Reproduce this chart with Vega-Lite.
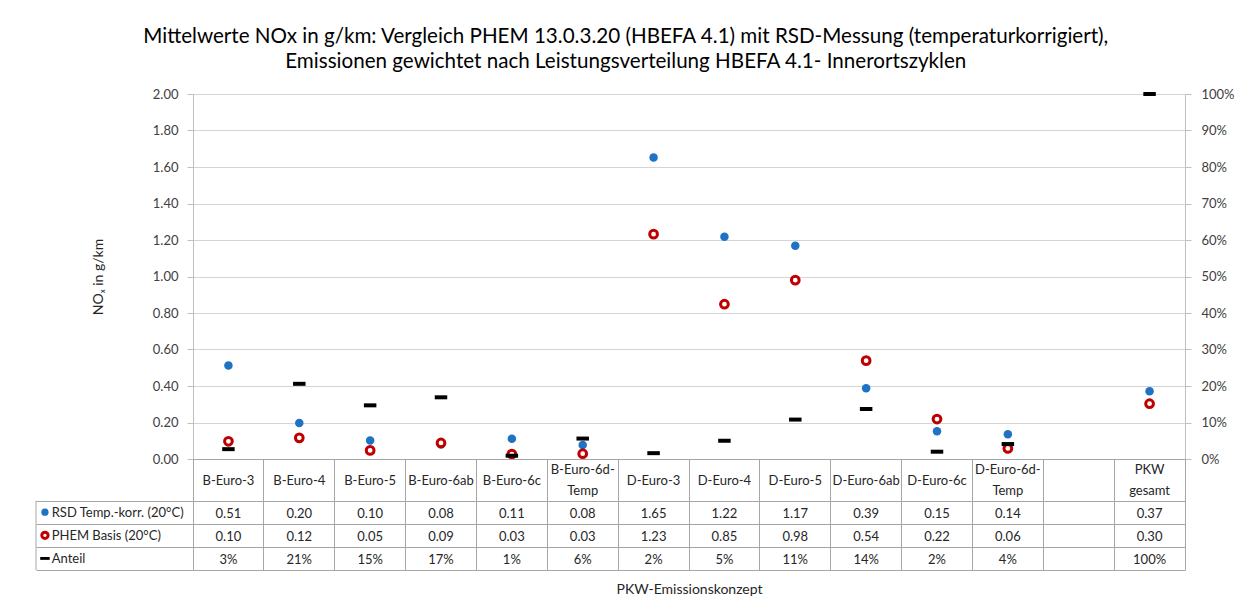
{
  "$schema": "https://vega.github.io/schema/vega-lite/v6.json",
  "padding": {"left": 35, "top": 27, "right": 4, "bottom": 5},
  "background": "white",
  "title": {
    "text": ["Mittelwerte NOx in g/km: Vergleich PHEM 13.0.3.20 (HBEFA 4.1) mit RSD-Messung (temperaturkorrigiert),", "Emissionen gewichtet nach Leistungsverteilung HBEFA 4.1- Innerortszyklen"],
    "fontSize": 20.6, "font": "Lato", "fontWeight": "normal", "color": "#000000", "lineHeight": 25, "anchor": "middle", "offset": 15, "dx": -9
  },
  "datasets": {
    "main": [
      {"k": "B-Euro-3", "rsd": 0.512, "phem": 0.097, "anteil": 0.027},
      {"k": "B-Euro-4", "rsd": 0.197, "phem": 0.116, "anteil": 0.206},
      {"k": "B-Euro-5", "rsd": 0.102, "phem": 0.047, "anteil": 0.147},
      {"k": "B-Euro-6ab", "rsd": 0.08, "phem": 0.088, "anteil": 0.169},
      {"k": "B-Euro-6c", "rsd": 0.111, "phem": 0.027, "anteil": 0.009},
      {"k": "B-Euro-6d-\nTemp", "rsd": 0.077, "phem": 0.029, "anteil": 0.056},
      {"k": "D-Euro-3", "rsd": 1.652, "phem": 1.232, "anteil": 0.016},
      {"k": "D-Euro-4", "rsd": 1.218, "phem": 0.848, "anteil": 0.05},
      {"k": "D-Euro-5", "rsd": 1.168, "phem": 0.98, "anteil": 0.108},
      {"k": "D-Euro-6ab", "rsd": 0.388, "phem": 0.539, "anteil": 0.137},
      {"k": "D-Euro-6c", "rsd": 0.152, "phem": 0.219, "anteil": 0.02},
      {"k": "D-Euro-6d-\nTemp", "rsd": 0.136, "phem": 0.058, "anteil": 0.041},
      {"k": "PKW\ngesamt", "rsd": 0.371, "phem": 0.303, "anteil": 1.0}
    ]
  },
  "columns": 2,
  "spacing": 0,
  "bounds": "flush",
  "concat": [
    {
      "width": 157, "height": 365,
      "data": {"values": []},
      "mark": "point",
      "encoding": {}
    },
    {
      "width": 992, "height": 365,
      "data": {"name": "main"},
      "encoding": {
        "x": {"field": "k", "type": "nominal", "axis": null,
              "scale": {"type": "band", "paddingInner": 0, "paddingOuter": 0,
                        "domain": ["B-Euro-3", "B-Euro-4", "B-Euro-5", "B-Euro-6ab", "B-Euro-6c", "B-Euro-6d-\nTemp", "D-Euro-3", "D-Euro-4", "D-Euro-5", "D-Euro-6ab", "D-Euro-6c", "D-Euro-6d-\nTemp", " ", "PKW\ngesamt"]}}
      },
      "layer": [
        {
          "layer": [
            {
              "mark": {"type": "point", "filled": true, "shape": "circle", "size": 72, "color": "#1f72c4", "opacity": 1},
              "encoding": {
                "y": {"field": "rsd", "type": "quantitative", "scale": {"domain": [0, 2], "nice": false},
                      "axis": {"title": "NOₓ in g/km", "values": [0, 0.2, 0.4, 0.6, 0.8, 1.0, 1.2, 1.4, 1.6, 1.8, 2.0], "format": ".2f",
                               "grid": true, "gridColor": "#d4d4d4", "domainColor": "#bfbfbf", "tickColor": "#bfbfbf", "tickSize": 6,
                               "labelPadding": 9, "labelFontSize": 13, "labelColor": "#404040", "titleFontSize": 14, "titleFontWeight": "normal", "titleColor": "#262626", "titlePadding": 47}}
              }
            },
            {
              "mark": {"type": "point", "filled": false, "shape": "circle", "size": 60, "stroke": "#c00000", "fill": "#ffffff", "fillOpacity": 1, "strokeWidth": 3, "opacity": 1},
              "encoding": {
                "y": {"field": "phem", "type": "quantitative", "scale": {"domain": [0, 2], "nice": false},
                      "axis": {"title": "NOₓ in g/km", "values": [0, 0.2, 0.4, 0.6, 0.8, 1.0, 1.2, 1.4, 1.6, 1.8, 2.0], "format": ".2f",
                               "grid": true, "gridColor": "#d4d4d4", "domainColor": "#bfbfbf", "tickColor": "#bfbfbf", "tickSize": 6,
                               "labelPadding": 9, "labelFontSize": 13, "labelColor": "#404040", "titleFontSize": 14, "titleFontWeight": "normal", "titleColor": "#262626", "titlePadding": 47}}
              }
            }
          ]
        },
        {
          "mark": {"type": "point", "filled": true, "shape": "M-1,-0.32L1,-0.32L1,0.32L-1,0.32Z", "size": 156, "color": "#000000", "opacity": 1, "strokeWidth": 0},
          "encoding": {
            "y": {"field": "anteil", "type": "quantitative", "scale": {"domain": [0, 1], "nice": false},
                  "axis": {"orient": "right", "title": null, "values": [0, 0.1, 0.2, 0.3, 0.4, 0.5, 0.6, 0.7, 0.8, 0.9, 1.0], "format": ".0%",
                           "grid": false, "domainColor": "#bfbfbf", "tickColor": "#bfbfbf", "tickSize": 6,
                           "labelPadding": 10, "labelFontSize": 13, "labelColor": "#404040"}}
          }
        }
      ],
      "resolve": {"scale": {"y": "independent"}}
    },
    {
      "width": 157, "height": 111,
      "data": {"values": [{}]},
      "layer": [
        {
          "mark": {"type": "rule", "color": "#a6a6a6", "strokeWidth": 1},
          "encoding": {
            "x": {"datum": 0, "type": "quantitative", "scale": {"domain": [0, 1], "nice": false}, "axis": null},
            "y": {"datum": 1.8, "type": "quantitative", "scale": {"domain": [0, 4.8], "reverse": true, "nice": false, "zero": false},
                  "axis": {"values": [1.8, 2.8, 3.8, 4.8], "grid": true, "gridColor": "#a6a6a6", "labels": false, "ticks": false, "domain": false, "title": null}},
            "y2": {"datum": 4.8}
          }
        },
        {
          "mark": {"type": "point", "filled": true, "shape": "circle", "size": 52, "color": "#1f72c4", "opacity": 1},
          "encoding": {
            "x": {"datum": 0.057, "type": "quantitative", "scale": {"domain": [0, 1], "nice": false}, "axis": null},
            "y": {"datum": 2.3, "type": "quantitative", "scale": {"domain": [0, 4.8], "reverse": true, "nice": false, "zero": false},
                  "axis": {"values": [1.8, 2.8, 3.8, 4.8], "grid": true, "gridColor": "#a6a6a6", "labels": false, "ticks": false, "domain": false, "title": null}}
          }
        },
        {
          "mark": {"type": "point", "filled": false, "shape": "circle", "size": 40, "stroke": "#c00000", "fill": "#ffffff", "fillOpacity": 1, "strokeWidth": 3, "opacity": 1},
          "encoding": {
            "x": {"datum": 0.057, "type": "quantitative", "scale": {"domain": [0, 1], "nice": false}, "axis": null},
            "y": {"datum": 3.3, "type": "quantitative", "scale": {"domain": [0, 4.8], "reverse": true, "nice": false, "zero": false},
                  "axis": {"values": [1.8, 2.8, 3.8, 4.8], "grid": true, "gridColor": "#a6a6a6", "labels": false, "ticks": false, "domain": false, "title": null}}
          }
        },
        {
          "mark": {"type": "point", "filled": true, "shape": "M-1,-0.3L1,-0.3L1,0.3L-1,0.3Z", "size": 90, "color": "#000000", "opacity": 1, "strokeWidth": 0},
          "encoding": {
            "x": {"datum": 0.057, "type": "quantitative", "scale": {"domain": [0, 1], "nice": false}, "axis": null},
            "y": {"datum": 4.3, "type": "quantitative", "scale": {"domain": [0, 4.8], "reverse": true, "nice": false, "zero": false},
                  "axis": {"values": [1.8, 2.8, 3.8, 4.8], "grid": true, "gridColor": "#a6a6a6", "labels": false, "ticks": false, "domain": false, "title": null}}
          }
        },
        {
          "mark": {"type": "text", "align": "left", "baseline": "middle", "fontSize": 13, "color": "#262626", "dy": 1},
          "encoding": {
            "x": {"datum": 0.1, "type": "quantitative", "scale": {"domain": [0, 1], "nice": false}, "axis": null},
            "y": {"datum": 2.3, "type": "quantitative", "scale": {"domain": [0, 4.8], "reverse": true, "nice": false, "zero": false},
                  "axis": {"values": [1.8, 2.8, 3.8, 4.8], "grid": true, "gridColor": "#a6a6a6", "labels": false, "ticks": false, "domain": false, "title": null}},
            "text": {"value": "RSD Temp.-korr. (20°C)"}
          }
        },
        {
          "mark": {"type": "text", "align": "left", "baseline": "middle", "fontSize": 13, "color": "#262626", "dy": 1},
          "encoding": {
            "x": {"datum": 0.1, "type": "quantitative", "scale": {"domain": [0, 1], "nice": false}, "axis": null},
            "y": {"datum": 3.3, "type": "quantitative", "scale": {"domain": [0, 4.8], "reverse": true, "nice": false, "zero": false},
                  "axis": {"values": [1.8, 2.8, 3.8, 4.8], "grid": true, "gridColor": "#a6a6a6", "labels": false, "ticks": false, "domain": false, "title": null}},
            "text": {"value": "PHEM Basis (20°C)"}
          }
        },
        {
          "mark": {"type": "text", "align": "left", "baseline": "middle", "fontSize": 13, "color": "#262626", "dy": 1},
          "encoding": {
            "x": {"datum": 0.1, "type": "quantitative", "scale": {"domain": [0, 1], "nice": false}, "axis": null},
            "y": {"datum": 4.3, "type": "quantitative", "scale": {"domain": [0, 4.8], "reverse": true, "nice": false, "zero": false},
                  "axis": {"values": [1.8, 2.8, 3.8, 4.8], "grid": true, "gridColor": "#a6a6a6", "labels": false, "ticks": false, "domain": false, "title": null}},
            "text": {"value": "Anteil"}
          }
        }
      ]
    },
    {
      "width": 992, "height": 111,
      "data": {"name": "main"},
      "encoding": {
        "x": {"field": "k", "type": "nominal",
              "scale": {"type": "band", "paddingInner": 0, "paddingOuter": 0,
                        "domain": ["B-Euro-3", "B-Euro-4", "B-Euro-5", "B-Euro-6ab", "B-Euro-6c", "B-Euro-6d-\nTemp", "D-Euro-3", "D-Euro-4", "D-Euro-5", "D-Euro-6ab", "D-Euro-6c", "D-Euro-6d-\nTemp", " ", "PKW\ngesamt"]},
              "axis": {"bandPosition": 0, "grid": true, "gridColor": "#a6a6a6", "labels": false, "ticks": false, "domain": false,
                       "title": "PKW-Emissionskonzept", "titleFontSize": 14, "titleFontWeight": "normal", "titleColor": "#262626", "titlePadding": 12}}
      },
      "layer": [
        {
          "transform": [{"filter": "indexof(datum.k, '\\n') < 0"}],
          "mark": {"type": "text", "fontSize": 13, "color": "#262626", "baseline": "middle", "dy": 1},
          "encoding": {
            "y": {"datum": 0.9, "type": "quantitative", "scale": {"domain": [0, 4.8], "reverse": true, "nice": false, "zero": false},
                  "axis": {"orient": "right", "values": [0, 1.8, 2.8, 3.8, 4.8], "grid": true, "gridColor": "#a6a6a6", "labels": false, "ticks": false, "domain": true, "domainColor": "#a6a6a6", "title": null}},
            "text": {"field": "k"}
          }
        },
        {
          "transform": [{"filter": "indexof(datum.k, '\\n') >= 0"}],
          "mark": {"type": "text", "lineBreak": "\n", "lineHeight": 21, "fontSize": 13, "color": "#262626", "baseline": "middle", "dy": -9.5},
          "encoding": {
            "y": {"datum": 0.9, "type": "quantitative", "scale": {"domain": [0, 4.8], "reverse": true, "nice": false, "zero": false},
                  "axis": {"orient": "right", "values": [0, 1.8, 2.8, 3.8, 4.8], "grid": true, "gridColor": "#a6a6a6", "labels": false, "ticks": false, "domain": true, "domainColor": "#a6a6a6", "title": null}},
            "text": {"field": "k"}
          }
        },
        {
          "mark": {"type": "text", "fontSize": 13, "color": "#262626", "baseline": "middle", "dy": 2},
          "encoding": {
            "y": {"datum": 2.3, "type": "quantitative", "scale": {"domain": [0, 4.8], "reverse": true, "nice": false, "zero": false},
                  "axis": {"orient": "right", "values": [0, 1.8, 2.8, 3.8, 4.8], "grid": true, "gridColor": "#a6a6a6", "labels": false, "ticks": false, "domain": true, "domainColor": "#a6a6a6", "title": null}},
            "text": {"field": "rsd", "type": "quantitative", "format": ".2f"}
          }
        },
        {
          "mark": {"type": "text", "fontSize": 13, "color": "#262626", "baseline": "middle", "dy": 2},
          "encoding": {
            "y": {"datum": 3.3, "type": "quantitative", "scale": {"domain": [0, 4.8], "reverse": true, "nice": false, "zero": false},
                  "axis": {"orient": "right", "values": [0, 1.8, 2.8, 3.8, 4.8], "grid": true, "gridColor": "#a6a6a6", "labels": false, "ticks": false, "domain": true, "domainColor": "#a6a6a6", "title": null}},
            "text": {"field": "phem", "type": "quantitative", "format": ".2f"}
          }
        },
        {
          "mark": {"type": "text", "fontSize": 13, "color": "#262626", "baseline": "middle", "dy": 2},
          "encoding": {
            "y": {"datum": 4.3, "type": "quantitative", "scale": {"domain": [0, 4.8], "reverse": true, "nice": false, "zero": false},
                  "axis": {"orient": "right", "values": [0, 1.8, 2.8, 3.8, 4.8], "grid": true, "gridColor": "#a6a6a6", "labels": false, "ticks": false, "domain": true, "domainColor": "#a6a6a6", "title": null}},
            "text": {"field": "anteil", "type": "quantitative", "format": ".0%"}
          }
        }
      ]
    }
  ],
  "config": {
    "view": {"stroke": null},
    "font": "Lato",
    "axis": {"labelFont": "Lato", "titleFont": "Lato"},
    "text": {"font": "Lato"}
  }
}
